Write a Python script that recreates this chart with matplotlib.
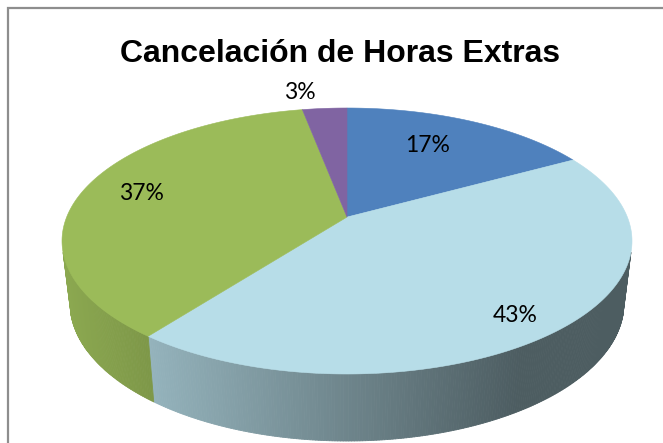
import numpy as np
import matplotlib
matplotlib.use('Agg')
import matplotlib.pyplot as plt
from matplotlib.collections import PolyCollection
from matplotlib.colors import to_rgb

title = 'Cancelación de Horas Extras'
values = [17.0, 43.4, 36.6, 3.0]
colors = ['#4f81bd', '#b7dde8', '#9bbb59', '#8064a2']

W, H = 663, 443
# top face and bottom rim of the 3d pie, in pixels
cx = 347
top_rx, top_cy, top_ry = 285, 241, 133
bot_rx, bot_cy, bot_ry = 277, 303, 138
k = 0.18  # perspective shift of the pie centre

def rim(theta):
    # theta clockwise from 12 o'clock, circle point pushed through the perspective
    x, y = np.sin(theta), np.cos(theta)
    d = 1 + k * y
    return x * np.sqrt(1 - k * k) / d, (y + k) / d

def shade(c, f):
    return tuple(v * f for v in to_rgb(c))

fig = plt.figure(figsize=(W / 100, H / 100), dpi=100)
ax = fig.add_axes([0, 0, 1, 1])
ax.set_xlim(0, W)
ax.set_ylim(H, 0)
ax.axis('off')

# chart frame, only top and left show
ax.plot([8, 8, W], [H, 8, 8], color='#8e8e8e', lw=1.6, solid_joinstyle='miter')

edges = np.cumsum([0] + values) / sum(values) * 2 * np.pi

# side wall, thin strips with a left to right darkening, front part only
polys, cols = [], []
for i, c in enumerate(colors):
    n = max(int((edges[i + 1] - edges[i]) * 120), 2)
    t = np.linspace(edges[i], edges[i + 1], n + 1)
    rx, ry = rim(t)
    xt, yt = cx + rx * top_rx, top_cy - ry * top_ry
    xb, yb = cx + rx * bot_rx, bot_cy - ry * bot_ry
    for j in range(n):
        if ry[j] > -0.08 or ry[j + 1] > -0.08:
            continue
        polys.append([(xt[j], yt[j]), (xt[j + 1], yt[j + 1]), (xb[j + 1], yb[j + 1]), (xb[j], yb[j])])
        f = np.interp((xt[j] + xt[j + 1]) / 2, [62, 520], [0.9, 0.42])
        cols.append(shade(c, f))
ax.add_collection(PolyCollection(polys, facecolors=cols, edgecolors=cols, linewidths=0.6))

# top face
ax_x0, ax_y0 = cx, top_cy - rim(np.pi / 2)[1] * top_ry
for i, c in enumerate(colors):
    t = np.linspace(edges[i], edges[i + 1], 200)
    rx, ry = rim(t)
    px = np.r_[ax_x0, cx + rx * top_rx]
    py = np.r_[ax_y0, top_cy - ry * top_ry]
    ax.fill(px, py, facecolor=c, edgecolor=c, lw=0.4, zorder=3)

ax.text(340, 54, title, fontsize=23, fontweight='bold', family='Liberation Sans',
        ha='center', va='center', color='black', zorder=5)

label_pos = [(428, 146), (515, 316), (141, 193), (300, 92)]
for v, (x, y) in zip(values, label_pos):
    ax.text(x, y, '%.0f%%' % v, fontsize=16.5, family='Lato', ha='center', va='center',
            color='black', zorder=5)

fig.savefig('out.png', dpi=100)
